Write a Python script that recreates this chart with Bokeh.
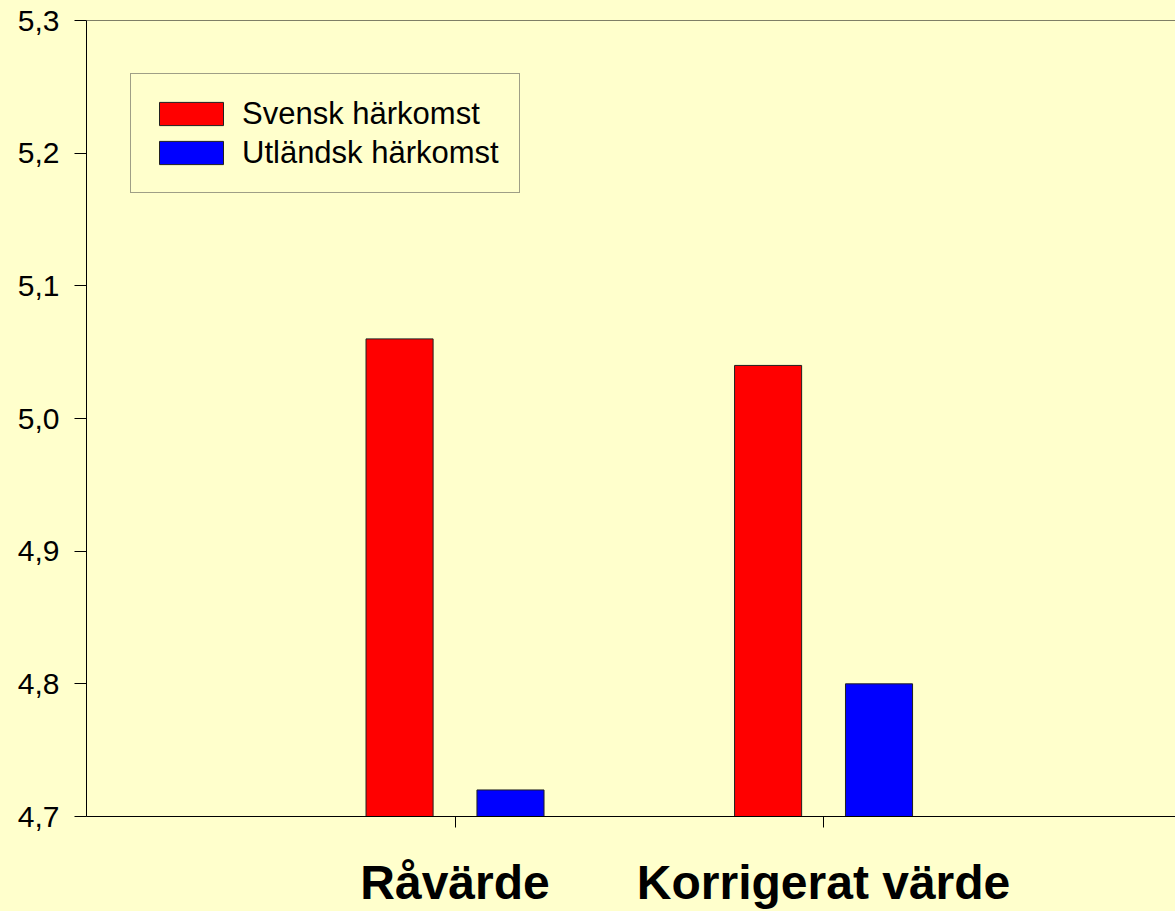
from bokeh.plotting import figure
from bokeh.models import (Range1d, FixedTicker, CustomJSTickFormatter, Legend,
                          LegendItem, Span, ColumnDataSource)
from bokeh.embed import file_html
from bokeh.resources import INLINE

# ---- data ----
categories = ["Råvärde", "Korrigerat värde"]
svensk = [5.06, 5.04]
utlandsk = [4.72, 4.80]
series_names = ["Svensk härkomst", "Utländsk härkomst"]
y_ticks = [4.7, 4.8, 4.9, 5.0, 5.1, 5.2, 5.3]

BG = "#FFFFCC"
FONT = "Liberation Sans"

x_pos = [i + 1 for i in range(len(categories))]

p = figure(width=1175, height=911, output_backend="svg", toolbar_location=None,
           x_range=Range1d(0, 2.955), y_range=Range1d(4.7, 5.3),
           min_border_left=86, min_border_right=0, min_border_top=20,
           min_border_bottom=94)
p.background_fill_color = BG
p.border_fill_color = BG
p.outline_line_color = None
p.grid.visible = False

src_s = ColumnDataSource(dict(x=[x - 0.1505 for x in x_pos], top=svensk))
src_u = ColumnDataSource(dict(x=[x + 0.1505 for x in x_pos], top=utlandsk))
r1 = p.vbar(x="x", top="top", bottom=4.7, width=0.182, source=src_s,
            fill_color="#FF0000", line_color="#202020", line_width=1)
r2 = p.vbar(x="x", top="top", bottom=4.7, width=0.182, source=src_u,
            fill_color="#0000FF", line_color="#202020", line_width=1)

p.add_layout(Span(location=5.3, dimension="width", line_color="black", line_width=1))

# y axis
ya = p.yaxis[0]
ya.ticker = FixedTicker(ticks=y_ticks)
ya.formatter = CustomJSTickFormatter(code="return tick.toFixed(1).replace('.', ',');")
ya.minor_tick_line_color = None
ya.major_tick_in = 0
ya.major_tick_out = 12
ya.axis_line_color = "black"
ya.major_tick_line_color = "black"
ya.major_label_text_font = FONT
ya.major_label_text_font_size = "30px"
ya.major_label_text_color = "black"
ya.major_label_standoff = 15

# x axis
xa = p.xaxis[0]
xa.ticker = FixedTicker(ticks=x_pos)
xa.major_label_overrides = {x: c for x, c in zip(x_pos, categories)}
xa.minor_tick_line_color = None
xa.major_tick_in = 0
xa.major_tick_out = 11
xa.axis_line_color = "black"
xa.major_tick_line_color = "black"
xa.major_label_text_font = FONT
xa.major_label_text_font_style = "bold"
xa.major_label_text_font_size = "48px"
xa.major_label_text_color = "black"
xa.major_label_standoff = 28

legend = Legend(items=[LegendItem(label=series_names[0], renderers=[r1]),
                       LegendItem(label=series_names[1], renderers=[r2])],
                location=(44, 623), orientation="vertical",
                background_fill_color=BG, background_fill_alpha=1,
                border_line_color="#404040", border_line_width=1,
                label_text_font=FONT, label_text_font_size="31px",
                label_text_color="black",
                glyph_width=80, glyph_height=29, label_height=39,
                label_standoff=11, spacing=0, padding=20, margin=0)
p.add_layout(legend, "center")

html = file_html(p, INLINE)
html = html.replace("<head>", "<head><style>body{background:#FFFFCC;}</style>", 1)
open("out.html", "w").write(html)
